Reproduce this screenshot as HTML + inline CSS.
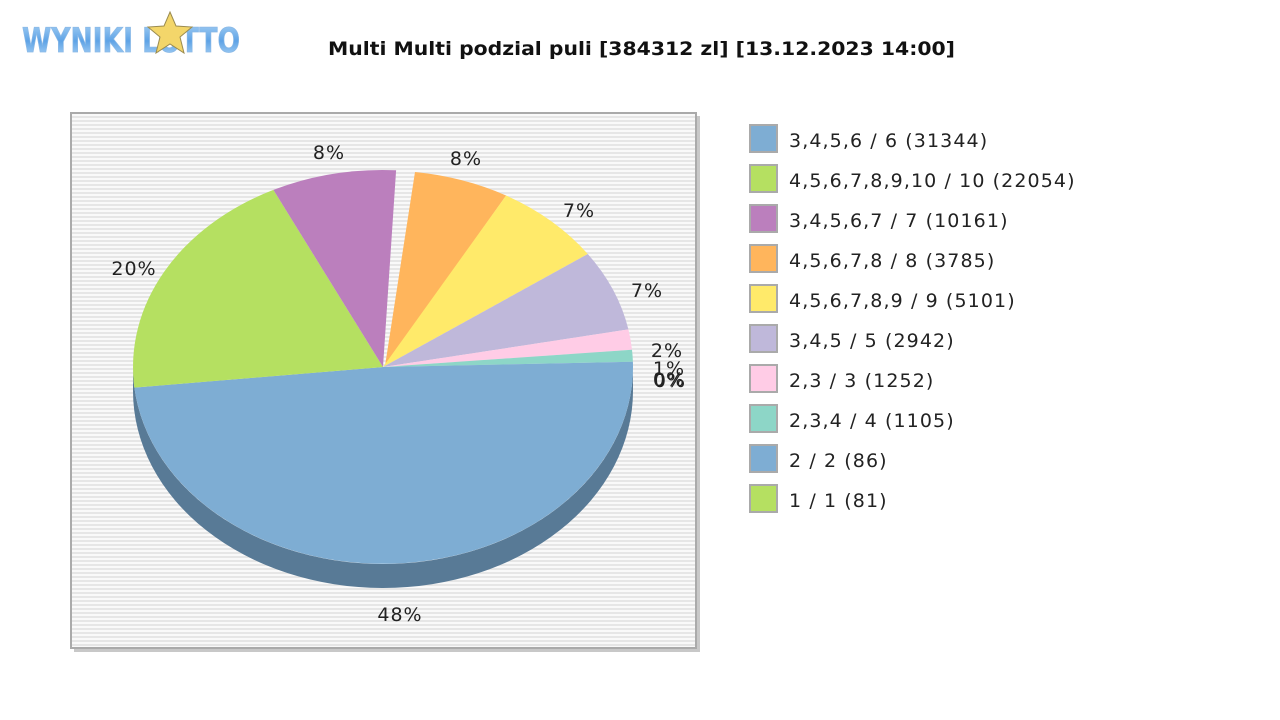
<!DOCTYPE html>
<html><head><meta charset="utf-8"><style>
body{margin:0;width:1280px;height:720px;background:#fff;overflow:hidden;font-family:"DejaVu Sans","Liberation Sans",sans-serif}
</style></head><body>
<svg width="1280" height="720" xmlns="http://www.w3.org/2000/svg" style="position:absolute;left:0;top:0">
<defs>
<pattern id="st" width="4" height="4" patternUnits="userSpaceOnUse"><rect width="4" height="4" fill="#f9f9f9"/><rect width="4" height="2" fill="#e6e6e6"/></pattern>
<linearGradient id="lg" x1="0" y1="0" x2="0" y2="1"><stop offset="0" stop-color="#a9d2f5"/><stop offset="0.5" stop-color="#5ea3e6"/><stop offset="1" stop-color="#b8dcf8"/></linearGradient>
</defs>
<text x="22" y="52" font-family="DejaVu Sans" font-weight="bold" font-size="34" fill="url(#lg)" stroke="#8bb9e6" stroke-width="0.8" textLength="218" lengthAdjust="spacingAndGlyphs">WYNIKI LOTTO</text>
<polygon points="170,12 176,26 192,27 180,37 184,53 170,44 156,53 160,37 148,27 164,26" fill="#f3d66a" stroke="#9a8b50" stroke-width="1"/>
<text x="328" y="55" font-weight="bold" font-size="19" fill="#111" textLength="627" lengthAdjust="spacingAndGlyphs">Multi Multi podzial puli [384312 zl] [13.12.2023 14:00]</text>
<rect x="74" y="116" width="626" height="536" fill="#c8c8c8"/>
<rect x="71" y="113" width="625" height="535" fill="url(#st)" stroke="#aaa" stroke-width="2"/>
<path d="M133,367 A250,197 0 0 0 633,367 L633,391 A250,197 0 0 1 133,391 Z" fill="#587a96"/>
<g stroke="none">
<path d="M383,367 L633,367 A250,197 0 0 1 134.4,387.6 Z" fill="#7eadd3"/>
<path d="M383,367 L134.4,387.6 A250,197 0 0 1 273.4,189.9 Z" fill="#b5e061"/>
<path d="M383,367 L273.4,189.9 A250,197 0 0 1 396.1,170.3 Z" fill="#bb7fbd"/>
<path d="M385,366 L415,172 A250,197 0 0 1 506.1,195.5 Z" fill="#ffb55c"/>
<path d="M383,367 L506.1,195.5 A250,197 0 0 1 587.8,254 Z" fill="#ffea6a"/>
<path d="M383,367 L587.8,254 A250,197 0 0 1 628.4,329.4 Z" fill="#bfb8da"/>
<path d="M383,367 L628.4,329.4 A250,197 0 0 1 632,349.8 Z" fill="#ffcce6"/>
<path d="M383,367 L632,349.8 A250,197 0 0 1 632.9,361.8 Z" fill="#8dd6c7"/>
<path d="M383,367 L632.9,361.8 A250,197 0 0 1 633,367 Z" fill="#7eadd3"/>
</g>
<g font-size="19" fill="#222" text-anchor="middle" letter-spacing="1">
<text x="400" y="621">48%</text>
<text x="134" y="275">20%</text>
<text x="329" y="159">8%</text>
<text x="466" y="165">8%</text>
<text x="579" y="217">7%</text>
<text x="647" y="297">7%</text>
<text x="667" y="357">2%</text>
<text x="669" y="375">1%</text>
<text x="669" y="386">0%</text>
<text x="670" y="387">0%</text>
</g>
<g font-size="19" fill="#222" letter-spacing="1.1">
<g stroke="#aaa" stroke-width="2">
<rect x="750" y="125" width="27" height="27" fill="#7eadd3"/>
<rect x="750" y="165" width="27" height="27" fill="#b5e061"/>
<rect x="750" y="205" width="27" height="27" fill="#bb7fbd"/>
<rect x="750" y="245" width="27" height="27" fill="#ffb55c"/>
<rect x="750" y="285" width="27" height="27" fill="#ffea6a"/>
<rect x="750" y="325" width="27" height="27" fill="#bfb8da"/>
<rect x="750" y="365" width="27" height="27" fill="#ffcce6"/>
<rect x="750" y="405" width="27" height="27" fill="#8dd6c7"/>
<rect x="750" y="445" width="27" height="27" fill="#7eadd3"/>
<rect x="750" y="485" width="27" height="27" fill="#b5e061"/>
</g>
<text x="789" y="147">3,4,5,6 / 6 (31344)</text>
<text x="789" y="187">4,5,6,7,8,9,10 / 10 (22054)</text>
<text x="789" y="227">3,4,5,6,7 / 7 (10161)</text>
<text x="789" y="267">4,5,6,7,8 / 8 (3785)</text>
<text x="789" y="307">4,5,6,7,8,9 / 9 (5101)</text>
<text x="789" y="347">3,4,5 / 5 (2942)</text>
<text x="789" y="387">2,3 / 3 (1252)</text>
<text x="789" y="427">2,3,4 / 4 (1105)</text>
<text x="789" y="467">2 / 2 (86)</text>
<text x="789" y="507">1 / 1 (81)</text>
</g>
</svg>
</body></html>
